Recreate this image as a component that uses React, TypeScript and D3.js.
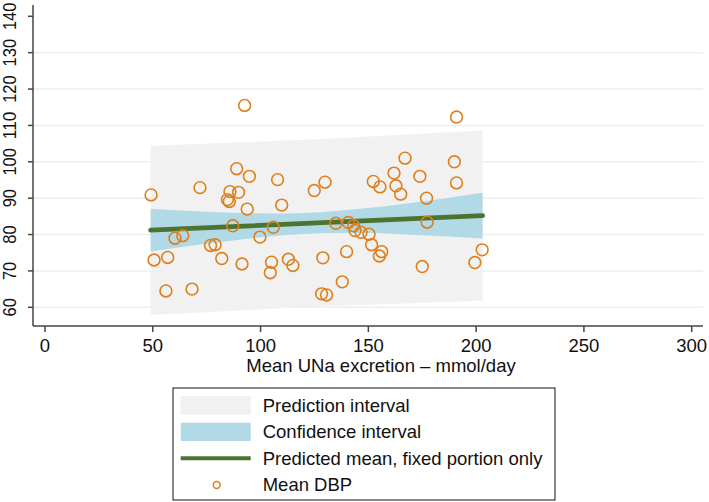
import React from "react";
import * as d3 from "d3";

// Observed points: Mean UNa excretion (mmol/day) vs Mean DBP
const unaValues = [
  49.2, 50.6, 56.9, 56.1, 60.3, 63.9, 68.2, 71.9, 76.8, 78.9,
  82.0, 91.4, 88.9, 94.8, 85.8, 89.8, 84.6, 85.5, 93.8, 87.1,
  92.6, 99.7, 107.9, 109.8, 105.9, 124.9, 129.9, 105.1, 104.5, 112.9,
  115.0, 128.9, 139.9, 137.9, 128.3, 130.6, 134.9, 140.7, 143.2, 143.8,
  146.6, 150.3, 151.5, 152.3, 155.4, 167.0, 161.9, 162.8, 165.0, 173.9,
  189.9, 190.9, 177.0, 177.3, 156.2, 155.1, 175.0, 202.8, 199.4, 190.9,
];
const dbpValues = [
  90.9, 73.0, 73.7, 64.5, 79.0, 79.7, 65.0, 92.9, 77.0, 77.2,
  73.4, 71.9, 98.1, 96.0, 91.8, 91.6, 89.6, 89.1, 87.0, 82.4,
  115.5, 79.3, 95.1, 88.1, 82.0, 92.1, 94.4, 72.4, 69.5, 73.2,
  71.5, 73.6, 75.3, 67.0, 63.7, 63.4, 83.1, 83.3, 82.4, 81.1,
  80.6, 80.1, 77.2, 94.6, 93.1, 101.0, 96.9, 93.4, 91.1, 96.0,
  100.0, 94.2, 90.0, 83.4, 75.3, 74.1, 71.2, 75.8, 72.3, 112.3,
];

// Prediction interval
const piX = [49, 126, 203];
const piLower = [57.9, 60.2, 61.8];
const piUpper = [104.4, 106.2, 108.6];

// Confidence interval
const ciX = [49, 60, 75, 90, 105, 120, 135, 150, 165, 180, 195, 203];
const ciLower = [75.3, 76.3, 77.5, 78.6, 79.5, 80.15, 80.4, 80.4, 80.1, 79.7, 79.2, 78.9];
const ciUpper = [87.1, 86.7, 86.3, 85.9, 85.8, 85.95, 86.5, 87.3, 88.35, 89.5, 90.8, 91.5];

// Predicted mean (fixed portion)
const meanX = [49, 203];
const meanY = [81.2, 85.2];

const xTicks = [0, 50, 100, 150, 200, 250, 300];
const yTicks = [60, 70, 80, 90, 100, 110, 120, 130, 140];
const gridTicks = [60, 70, 80, 90, 100, 110, 120, 130];

const legendLabels = [
  "Prediction interval",
  "Confidence interval",
  "Predicted mean, fixed portion only",
  "Mean DBP",
];

const W = 709;
const H = 502;
const FONT = "'Liberation Sans', Arial, Helvetica, sans-serif";
const ORANGE = "#de7f1a";
const GREEN = "#4c7430";
const CI_FILL = "#b2d9e6";
const PI_FILL = "#f1f1f1";
const AXIS = "#444";

export default function App() {
  const plotLeft = 33;
  const plotRight = 703;
  const plotTop = 5;
  const plotBottom = 326;

  const x = d3.scaleLinear().domain([0, 300]).range([45, 691.7]);
  const y = d3.scaleLinear().domain([60, 140]).range([307.3, 16.3]);

  const piData = piX.map((v, i) => ({ x: v, lo: piLower[i], hi: piUpper[i] }));
  const ciData = ciX.map((v, i) => ({ x: v, lo: ciLower[i], hi: ciUpper[i] }));
  const meanData = meanX.map((v, i) => ({ x: v, y: meanY[i] }));

  const area = d3
    .area<{ x: number; lo: number; hi: number }>()
    .x((d) => x(d.x))
    .y0((d) => y(d.lo))
    .y1((d) => y(d.hi));
  const ciArea = d3
    .area<{ x: number; lo: number; hi: number }>()
    .x((d) => x(d.x))
    .y0((d) => y(d.lo))
    .y1((d) => y(d.hi))
    .curve(d3.curveMonotoneX);
  const line = d3
    .line<{ x: number; y: number }>()
    .x((d) => x(d.x))
    .y((d) => y(d.y));

  const fs = 18.5;
  const lgX = 173;
  const lgY = 388;
  const lgW = 382;
  const lgH = 112;
  const rowH = 26.5;

  return (
    <svg
      width={W}
      height={H}
      style={{ position: "absolute", left: 0, top: 0, background: "#fff" }}
      fontFamily={FONT}
    >
      <rect x={0} y={0} width={W} height={H} fill="#fff" />
      {/* grid */}
      {gridTicks.map((t) => (
        <line
          key={"g" + t}
          x1={plotLeft}
          x2={plotRight}
          y1={y(t)}
          y2={y(t)}
          stroke="#e6eff1"
          strokeWidth={1.5}
        />
      ))}
      {/* bands */}
      <path d={area(piData) || ""} fill={PI_FILL} />
      <path d={ciArea(ciData) || ""} fill={CI_FILL} />
      <path
        d={line(meanData) || ""}
        stroke={GREEN}
        strokeWidth={4.8}
        fill="none"
        strokeLinecap="round"
      />
      {/* points */}
      {unaValues.map((v, i) => (
        <circle
          key={"p" + i}
          cx={x(v)}
          cy={y(dbpValues[i])}
          r={5.9}
          fill="none"
          stroke={ORANGE}
          strokeWidth={1.6}
        />
      ))}
      {/* axes */}
      <line x1={plotLeft} x2={plotLeft} y1={plotTop} y2={plotBottom} stroke={AXIS} strokeWidth={1.5} />
      <line x1={plotLeft} x2={plotRight} y1={plotBottom} y2={plotBottom} stroke={AXIS} strokeWidth={1.5} />
      {yTicks.map((t) => (
        <g key={"yt" + t}>
          <line x1={plotLeft - 5} x2={plotLeft} y1={y(t)} y2={y(t)} stroke={AXIS} strokeWidth={1.5} />
          <text
            transform={`translate(16,${y(t)}) rotate(-90)`}
            textAnchor="middle"
            fontSize={fs}
            textLength={(27.5 * String(t).length) / 3}
            lengthAdjust="spacingAndGlyphs"
            fill="#111"
          >
            {t}
          </text>
        </g>
      ))}
      {xTicks.map((t) => (
        <g key={"xt" + t}>
          <line x1={x(t)} x2={x(t)} y1={plotBottom} y2={plotBottom + 6} stroke={AXIS} strokeWidth={1.5} />
          <text x={x(t)} y={351.5} textAnchor="middle" fontSize={fs} fill="#111">
            {t}
          </text>
        </g>
      ))}
      <text x={381} y={371.7} textAnchor="middle" fontSize={fs} fill="#111">
        Mean UNa excretion – mmol/day
      </text>
      {/* legend */}
      <rect x={lgX} y={lgY} width={lgW} height={lgH} fill="#fff" stroke="#111" strokeWidth={1} />
      <rect x={180.7} y={396} width={70} height={18.7} fill={PI_FILL} />
      <rect x={180.7} y={422.7} width={70} height={18.3} fill={CI_FILL} />
      <line x1={180.7} x2={250.7} y1={458.3} y2={458.3} stroke={GREEN} strokeWidth={4} />
      <circle cx={216.7} cy={485} r={3.4} fill="none" stroke={ORANGE} strokeWidth={1.5} />
      {legendLabels.map((l, i) => (
        <text key={l} x={262.7} y={411.7 + i * rowH} fontSize={fs} fill="#111">
          {l}
        </text>
      ))}
    </svg>
  );
}
